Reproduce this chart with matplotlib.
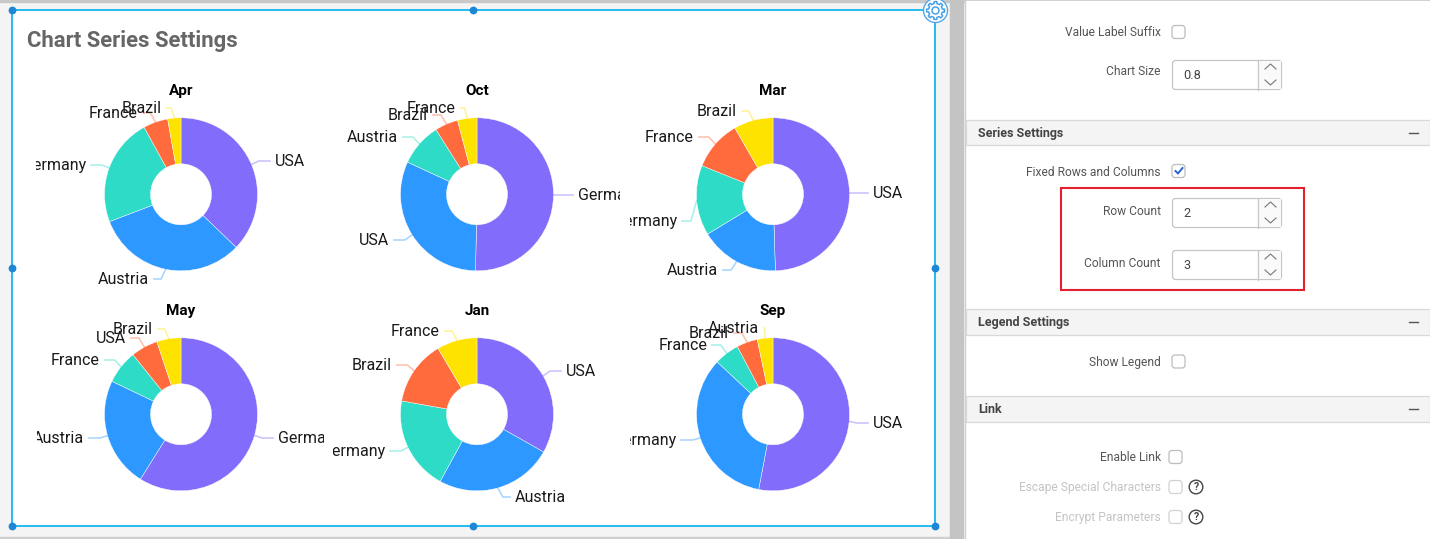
import numpy as np
import matplotlib
matplotlib.use('Agg')
import matplotlib.pyplot as plt
from matplotlib.patches import Rectangle, FancyBboxPatch, Circle

plt.rcParams['font.family'] = ['Roboto', 'DejaVu Sans']

# data (percent of each donut, clockwise from 12 o'clock)
months = ['Apr', 'Oct', 'Mar', 'May', 'Jan', 'Sep']
apr_names = ['USA', 'Austria', 'Germany', 'France', 'Brazil']
apr_values = [37.2, 32.0, 22.8, 5.2, 2.8]
oct_names = ['Germany', 'USA', 'Austria', 'Brazil', 'France']
oct_values = [50.3, 31.6, 9.1, 4.9, 4.1]
mar_names = ['USA', 'Austria', 'Germany', 'France', 'Brazil']
mar_values = [49.5, 16.8, 14.8, 10.6, 8.3]
may_names = ['Germany', 'Austria', 'France', 'USA', 'Brazil']
may_values = [58.9, 23.2, 7.1, 5.7, 5.1]
jan_names = ['USA', 'Austria', 'Germany', 'Brazil', 'France']
jan_values = [33.2, 24.8, 19.8, 13.7, 8.5]
sep_names = ['USA', 'Germany', 'France', 'Brazil', 'Austria']
sep_values = [53.0, 34.0, 5.3, 4.4, 3.3]

all_names = [apr_names, oct_names, mar_names, may_names, jan_names, sep_names]
all_values = [apr_values, oct_values, mar_values, may_values, jan_values, sep_values]

slice_colors = ['#826CFB', '#2D98FF', '#2DDBC6', '#FF6B3D', '#FFE300']

# layout in pixels
W, H = 1430, 539
centers = [(181, 194.3), (477, 194.3), (773, 194.3), (181, 414.3), (477, 414.3), (773, 414.3)]
R = 76.5
r_in = 30.5
clips = [(36, 324), (333, 620), (630, 920), (37, 324), (333, 620), (630, 920)]
# (text edge x, text y, side) for each label
label_pos = [
    [(275, 161, 'l'), (149, 279, 'r'), (86, 165, 'r'), (138, 113, 'r'), (162, 108, 'r')],
    [(578, 195, 'l'), (389, 240, 'r'), (398, 137, 'r'), (428, 115, 'r'), (456, 108, 'r')],
    [(873, 193, 'l'), (718, 270, 'r'), (677, 221, 'r'), (694, 137, 'r'), (737, 111, 'r')],
    [(278, 438, 'l'), (84, 438, 'r'), (100, 360, 'r'), (126, 338, 'r'), (153, 329, 'r')],
    [(566, 371, 'l'), (515, 497, 'l'), (385, 451, 'r'), (392, 365, 'r'), (440, 331, 'r')],
    [(873, 423, 'l'), (676, 440, 'r'), (707, 345, 'r'), (729, 333, 'r'), (759, 328, 'r')],
]


def pixel_axes(zorder):
    a = fig.add_axes([0, 0, 1, 1])
    a.set_xlim(0, W)
    a.set_ylim(H, 0)
    a.axis('off')
    a.set_zorder(zorder)
    return a


fig = plt.figure(figsize=(W / 100, H / 100), dpi=100, facecolor='#f4f4f4')
ax = pixel_axes(1)
top = pixel_axes(3)

# page background bits
ax.add_patch(Rectangle((0, 0), W, 1.5, color='#c8c8c8', zorder=1))
ax.add_patch(Rectangle((0, 537), 950, 2, color='#d0d0d0', zorder=1))
ax.add_patch(Rectangle((950, 0), 13, H, color='#c4c4c4', zorder=1))
ax.add_patch(Rectangle((965, 1), W - 965, H - 2, color='white', zorder=1))
ax.plot([965, 965], [0, H], color='#cfcfcf', lw=1, zorder=2)
ax.add_patch(Rectangle((12, 10), 923, 516, fc='white', ec='#00b0ee', lw=1.2, zorder=2))

# selection handles
handle_pts = [(12, 10), (473, 10), (12, 268), (935, 268), (12, 526), (473, 526), (935, 526)]
for hx, hy in handle_pts:
    ax.plot(hx, hy, 'o', ms=4.6, color='#1b87d6', zorder=3)

# gear icon, outline only
gear_x, gear_y = 935.5, 10.5
ax.add_patch(Circle((gear_x, gear_y), 12, fc='white', ec='#55a7e6', lw=1, zorder=4))
gear_a = np.linspace(0, 2 * np.pi, 161)
gear_r = np.where(np.cos(8 * gear_a) > 0, 9, 7)
ax.plot(gear_x + gear_r * np.cos(gear_a), gear_y + gear_r * np.sin(gear_a),
        color='#3d9be3', lw=1, zorder=5)
ax.add_patch(Circle((gear_x, gear_y), 3.5, fc='white', ec='#3d9be3', lw=1, zorder=5))

ax.text(27, 41, 'Chart Series Settings', fontsize=15.9, fontweight='bold', color='#666666',
        ha='left', va='center', zorder=5)

# donuts
for i, month in enumerate(months):
    cx, cy = centers[i]
    names = all_names[i]
    values = all_values[i]
    pie_ax = fig.add_axes([(cx - R) / W, 1 - (cy + R) / H, 2 * R / W, 2 * R / H])
    pie_ax.pie(values, colors=slice_colors, startangle=90, counterclock=False, radius=1,
               wedgeprops=dict(width=1 - r_in / R, edgecolor='white', linewidth=0.3))
    pie_ax.set_xlim(-1, 1)
    pie_ax.set_ylim(-1, 1)
    pie_ax.set_zorder(2)

    top.text(cx, cy - 103.5, month, fontsize=11, fontweight='bold', color='black',
             ha='center', va='center', zorder=6)

    clip_rect = Rectangle((clips[i][0], 0), clips[i][1] - clips[i][0], H, transform=top.transData)
    ends = np.cumsum(values)
    starts = ends - np.array(values)
    mids = (starts + ends) / 2 / 100 * 2 * np.pi
    for j, name in enumerate(names):
        tx, ty, side = label_pos[i][j]
        rim_x = cx + R * np.sin(mids[j])
        rim_y = cy - R * np.cos(mids[j])
        edge = tx - 5 if side == 'l' else tx + 5
        elbow_x = rim_x + np.clip((edge - rim_x) * 0.4, -8, 8)
        top.plot([rim_x, elbow_x, edge], [rim_y, ty, ty], color=slice_colors[j], alpha=0.4,
                 lw=1.2, zorder=6, clip_on=False)
        t = top.text(tx, ty + 0.6, name, fontsize=11.5, color='#1a1a1a', zorder=7, va='center',
                     ha='left' if side == 'l' else 'right')
        t.set_clip_on(True)
        t.set_clip_path(clip_rect)

# settings panel
label_color = '#555555'
faded = '#c4c4c4'


def checkbox(x, y, checked=False, faded_box=False):
    ec = '#d2d2d2' if faded_box else '#bdbdbd'
    ax.add_patch(FancyBboxPatch((x + 1.5, y - 5), 10, 10, boxstyle='round,pad=1.5,rounding_size=3',
                                fc='white', ec=ec, lw=0.9, zorder=5))
    if checked:
        ax.plot([x + 3.5, x + 6, x + 10.5], [y, y + 2.5, y - 3], color='#2a63d8', lw=1.4, zorder=6)


def spinner(y, value):
    ax.add_patch(FancyBboxPatch((1174, y - 13), 106, 26, boxstyle='round,pad=1.5,rounding_size=3',
                                fc='white', ec='#c6c6c6', lw=0.9, zorder=5))
    ax.add_patch(Rectangle((1257.5, y - 14), 23, 28, fc='#fafafa', ec='none', zorder=5))
    ax.plot([1257.5, 1257.5], [y - 14.5, y + 14.5], color='#c6c6c6', lw=0.9, zorder=6)
    ax.plot([1265, 1270.5, 1276], [y - 6, y - 11, y - 6], color='#777777', lw=0.8, zorder=6)
    ax.plot([1265, 1270.5, 1276], [y + 5, y + 10, y + 5], color='#777777', lw=0.8, zorder=6)
    ax.text(1183, y + 0.5, value, fontsize=9.2, color='#444444', ha='left', va='center', zorder=6)


def section(y0, y1, title):
    ax.add_patch(Rectangle((966, y0), W - 966, y1 - y0, fc='#f4f4f4', ec='#d9d9d9', lw=0.9, zorder=4))
    ax.text(978, (y0 + y1) / 2 + 0.5, title, fontsize=9, fontweight='bold', color='#444444',
            ha='left', va='center', zorder=6)
    ax.plot([1409, 1418], [(y0 + y1) / 2] * 2, color='#555555', lw=1, zorder=6)


def setting(y, text, color=label_color):
    ax.text(1161, y + 0.8, text, fontsize=8.65, color=color, ha='right', va='center', zorder=6)


setting(32, 'Value Label Suffix')
checkbox(1172, 32)
setting(71, 'Chart Size')
spinner(75, '0.8')

section(120, 145, 'Series Settings')
setting(171.5, 'Fixed Rows and Columns')
checkbox(1172, 171, checked=True)
setting(211, 'Row Count')
spinner(213, '2')
setting(263, 'Column Count')
spinner(265, '3')
ax.add_patch(Rectangle((1061, 188), 243, 102, fc='none', ec='#e5202e', lw=1.5, zorder=7))

section(309, 335, 'Legend Settings')
setting(362, 'Show Legend')
checkbox(1172, 361.5)

section(396, 422, 'Link')
setting(457, 'Enable Link')
checkbox(1169, 457)
setting(487, 'Escape Special Characters', faded)
checkbox(1169, 487, faded_box=True)
setting(517, 'Encrypt Parameters', faded)
checkbox(1169, 517, faded_box=True)
for qy in [487, 517]:
    ax.add_patch(Circle((1196, qy), 6.8, fc='white', ec='#444444', lw=1, zorder=6))
    ax.text(1196, qy, '?', fontsize=7.5, fontweight='bold', color='#444444',
            ha='center', va='center', zorder=7)

fig.savefig('out.png', dpi=100, facecolor=fig.get_facecolor())
